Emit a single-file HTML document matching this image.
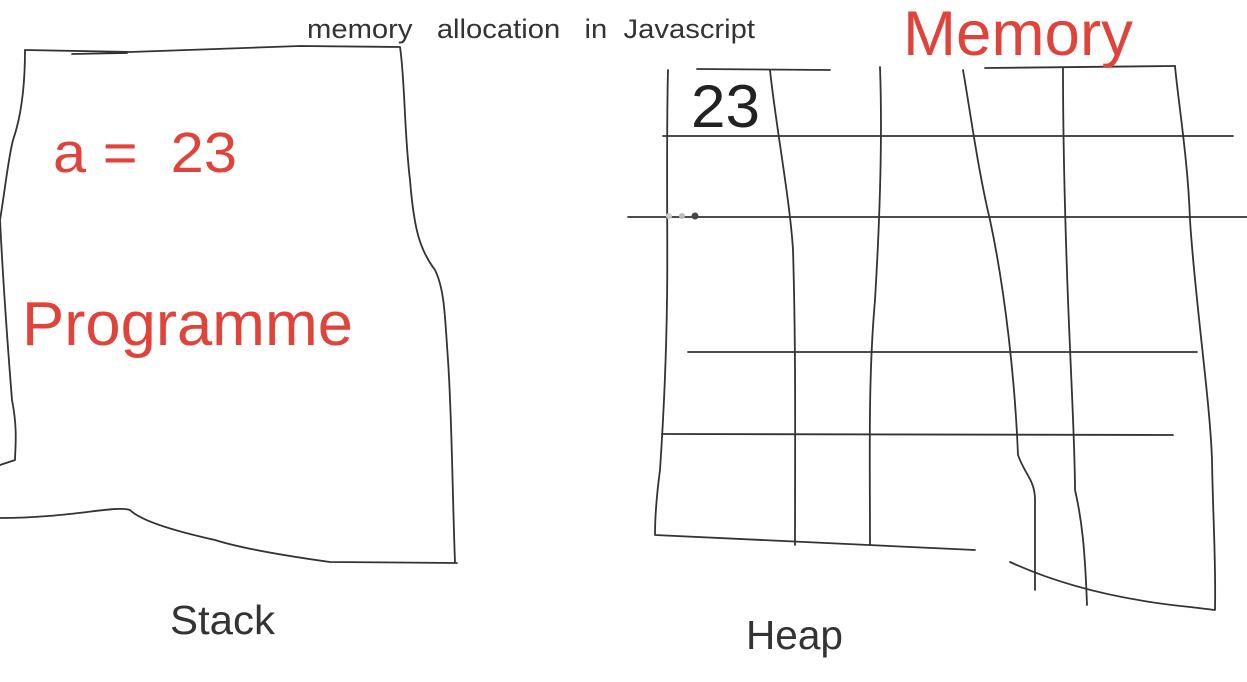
<!DOCTYPE html>
<html><head><meta charset="utf-8"><style>
html,body{margin:0;padding:0;background:#fff;width:1247px;height:682px;overflow:hidden}
svg{display:block}
text{font-family:"Liberation Sans",sans-serif}
</style></head><body>
<svg width="1247" height="682" viewBox="0 0 1247 682" xmlns="http://www.w3.org/2000/svg">
<g fill="none" stroke="#333" stroke-width="1.8" stroke-linecap="round" stroke-linejoin="round">
<path d="M25 50 L130 52 L300 46 L400 47 C405 80 404 130 410 180 C414 230 420 250 435 270 C445 290 445 320 448 360 C452 420 452 480 455 563 L457 563 L330 562 C280 555 240 548 215 540 C170 530 140 520 130 510 C115 505 70 518 0 518"/>
<path d="M25 50 C25 90 20 120 13 140 C8 160 5 190 0 220 C3 280 8 350 12 400 C18 430 15 450 15 460 L0 465"/>
<path d="M72 54 L127 53"/>
<path d="M668 70 C666 150 668 250 667 300 C666 380 662 440 660 470 C656 500 655 520 655 535 L975 550"/>
<path d="M697 69 L830 70 M985 68 L1175 66"/>
<path d="M770 70 C775 120 790 200 793 250 C796 350 795 450 795 545"/>
<path d="M880 67 C883 150 878 250 875 300 C868 380 870 460 870 545"/>
<path d="M963 70 C970 110 978 170 990 220 C1005 290 1015 380 1018 455 C1025 475 1035 480 1035 500 L1035 590"/>
<path d="M1063 68 C1063 130 1065 220 1068 300 C1072 400 1075 450 1075 490 C1082 520 1085 550 1087 605"/>
<path d="M1175 66 C1178 100 1188 160 1190 220 C1195 300 1210 400 1212 460 C1213 520 1216 560 1215 610 L1190 607 C1120 600 1060 585 1010 562"/>
<path d="M663 136 L1233 136"/>
<path d="M628 217 L1247 217"/>
<path d="M688 352 L1197 352"/>
<path d="M662 434 L1173 435"/>
</g>
<circle cx="695" cy="216" r="3.5" fill="#444"/>
<circle cx="682" cy="216" r="3" fill="#bbb"/>
<circle cx="669" cy="216" r="3" fill="#ccc"/>
<text x="307" y="38" font-size="27" fill="#333" xml:space="preserve" textLength="448" lengthAdjust="spacingAndGlyphs">memory   allocation   in  Javascript</text>
<text x="903" y="55" font-size="63" fill="#e0433a" textLength="230" lengthAdjust="spacingAndGlyphs">Memory</text>
<text x="691" y="127" font-size="60" fill="#222" textLength="69" lengthAdjust="spacingAndGlyphs">23</text>
<text x="53" y="172" font-size="57" fill="#e0433a" xml:space="preserve" textLength="184" lengthAdjust="spacingAndGlyphs">a =  23</text>
<text x="22" y="345" font-size="62" fill="#e0433a" textLength="331" lengthAdjust="spacingAndGlyphs">Programme</text>
<text x="170" y="634" font-size="41" fill="#333" textLength="105" lengthAdjust="spacingAndGlyphs">Stack</text>
<text x="746" y="649" font-size="41" fill="#333" textLength="97" lengthAdjust="spacingAndGlyphs">Heap</text>
</svg>
</body></html>
